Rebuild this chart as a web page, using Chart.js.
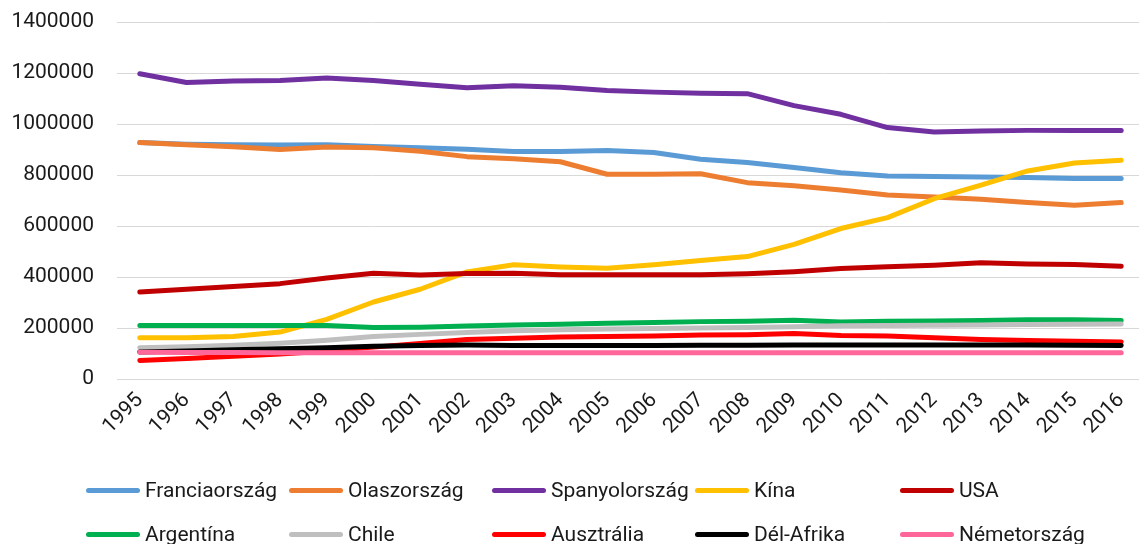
<!DOCTYPE html>
<html lang="hu">
<head>
<meta charset="utf-8">
<title>Termelés országonként, 1995–2016</title>
<script src="https://cdn.jsdelivr.net/npm/chart.js@4/dist/chart.umd.min.js"></script>
<style>
  html, body { margin: 0; padding: 0; background: #ffffff; }
  #wrap { position: relative; width: 1148px; height: 544px; overflow: hidden; }
  #chart { position: absolute; left: 0; top: 0; }
  .lg-item { position: absolute; height: 30px; display: flex; align-items: center;
             font-family: Roboto, "Noto Sans", sans-serif; font-size: 21px; color: #1a1a1a;
             white-space: nowrap; }
  .lg-swatch { width: 54px; height: 5px; border-radius: 3px; margin-right: 5px; }
</style>
</head>
<body>
<div id="wrap">
  <canvas id="chart" width="1148" height="544"></canvas>
  <div id="legend"></div>
</div>
<script>
// Years on the horizontal axis
const years = [1995, 1996, 1997, 1998, 1999, 2000, 2001, 2002, 2003, 2004, 2005,
               2006, 2007, 2008, 2009, 2010, 2011, 2012, 2013, 2014, 2015, 2016];

// Vertical axis tick values
const yTicks = [0, 200000, 400000, 600000, 800000, 1000000, 1200000, 1400000];

// Series values, one per year
const franciaorszag = [927000, 921000, 919000, 918000, 919000, 912000, 907000, 901000, 892000, 892000, 896000,
                       888000, 862000, 849000, 829000, 809000, 796000, 794000, 792000, 790000, 786000, 786000];
const olaszorszag   = [927000, 919000, 911000, 900000, 910000, 907000, 893000, 872000, 864000, 852000, 803000,
                       803000, 805000, 770000, 758000, 741000, 722000, 714000, 705000, 692000, 681000, 692000];
const spanyolorszag = [1197000, 1163000, 1169000, 1171000, 1180000, 1171000, 1156000, 1142000, 1150000, 1144000, 1131000,
                       1125000, 1121000, 1119000, 1072000, 1038000, 986000, 969000, 973000, 975000, 975000, 975000];
const kina          = [162000, 162000, 167000, 184000, 234000, 302000, 352000, 420000, 448000, 439000, 434000,
                       448000, 465000, 480000, 528000, 590000, 633000, 707000, 760000, 816000, 847000, 858000];
const usa           = [341000, 352000, 363000, 374000, 396000, 415000, 408000, 414000, 415000, 409000, 409000,
                       409000, 409000, 413000, 421000, 433000, 440000, 446000, 456000, 451000, 449000, 442000];
const argentina     = [210000, 210000, 210000, 210000, 210000, 202000, 203000, 208000, 212000, 215000, 219000,
                       222000, 225000, 226000, 230000, 224000, 226000, 227000, 229000, 232000, 232000, 229000];
const chile         = [123000, 126000, 132000, 140000, 152000, 167000, 175000, 182000, 189000, 193000, 196000,
                       198000, 200000, 202000, 205000, 209000, 210000, 211000, 212000, 214000, 215000, 216000];
const ausztralia    = [73000, 80000, 89000, 98000, 110000, 125000, 139000, 155000, 160000, 165000, 167000,
                       169000, 173000, 174000, 178000, 171000, 169000, 162000, 155000, 151000, 148000, 145000];
const delAfrika     = [106000, 110000, 115000, 119000, 123000, 128000, 131000, 133000, 131000, 131000, 131000,
                       131000, 132000, 132000, 133000, 133000, 133000, 133000, 133000, 133000, 132000, 131000];
const nemetorszag   = [105000, 104000, 104000, 103000, 103000, 103000, 103000, 103000, 103000, 103000, 103000,
                       103000, 103000, 103000, 103000, 103000, 103000, 103000, 103000, 103000, 103000, 103000];

const seriesNames  = ['Franciaország', 'Olaszország', 'Spanyolország', 'Kína', 'USA',
                      'Argentína', 'Chile', 'Ausztrália', 'Dél-Afrika', 'Németország'];
const seriesValues = [franciaorszag, olaszorszag, spanyolorszag, kina, usa,
                      argentina, chile, ausztralia, delAfrika, nemetorszag];
const seriesColors = ['#5B9BD5', '#ED7D31', '#7030A0', '#FFC000', '#C00000',
                      '#00B050', '#BFBFBF', '#FF0000', '#000000', '#FF6699'];

const datasets = seriesNames.map((name, i) => ({
  label: name,
  data: years.map((yr, j) => ({ x: yr, y: seriesValues[i][j] })),
  borderColor: seriesColors[i],
  backgroundColor: seriesColors[i],
  borderWidth: 5,
  borderCapStyle: 'round',
  borderJoinStyle: 'round',
  pointRadius: 0,
  tension: 0,
  fill: false,
  // later series are painted over earlier ones
  order: seriesNames.length - i
}));

const tickFont = { family: 'Roboto, "Noto Sans", sans-serif', size: 21 };

const chart = new Chart(document.getElementById('chart'), {
  type: 'line',
  data: { datasets },
  options: {
    responsive: false,
    animation: false,
    events: [],
    layout: { padding: { top: 22, right: 0, bottom: 0, left: 0 } },
    plugins: { legend: { display: false }, tooltip: { enabled: false } },
    scales: {
      x: {
        type: 'linear',
        min: 1994.512,
        max: 2016.382,
        afterBuildTicks: s => { s.ticks = years.map(v => ({ value: v })); },
        afterFit: s => { s.height = 165; },
        grid: { display: false, drawTicks: false },
        border: { display: false },
        ticks: {
          autoSkip: false,
          minRotation: 45,
          maxRotation: 45,
          padding: 9,
          color: '#1a1a1a',
          font: tickFont,
          callback: v => String(v)
        }
      },
      y: {
        min: 0,
        max: 1400000,
        afterBuildTicks: s => { s.ticks = yTicks.map(v => ({ value: v })); },
        afterFit: s => { s.width = 117; s.paddingTop = 0; s.paddingBottom = 0; },
        grid: { color: '#d9d9d9', lineWidth: 1, drawTicks: false },
        border: { display: false },
        ticks: {
          padding: 23,
          color: '#1a1a1a',
          font: tickFont,
          callback: v => String(v)
        }
      }
    }
  }
});

// Legend laid out as a two-row grid below the plot
const legendEl = document.getElementById('legend');
const colX = [86, 289, 492, 695, 900];
const rowY = [490, 534];
chart.data.datasets.forEach((ds, i) => {
  const item = document.createElement('div');
  item.className = 'lg-item';
  item.style.left = colX[i % 5] + 'px';
  item.style.top = (rowY[Math.floor(i / 5)] - 15) + 'px';
  const sw = document.createElement('span');
  sw.className = 'lg-swatch';
  sw.style.background = ds.borderColor;
  const tx = document.createElement('span');
  tx.textContent = ds.label;
  item.appendChild(sw);
  item.appendChild(tx);
  legendEl.appendChild(item);
});
</script>
</body>
</html>
